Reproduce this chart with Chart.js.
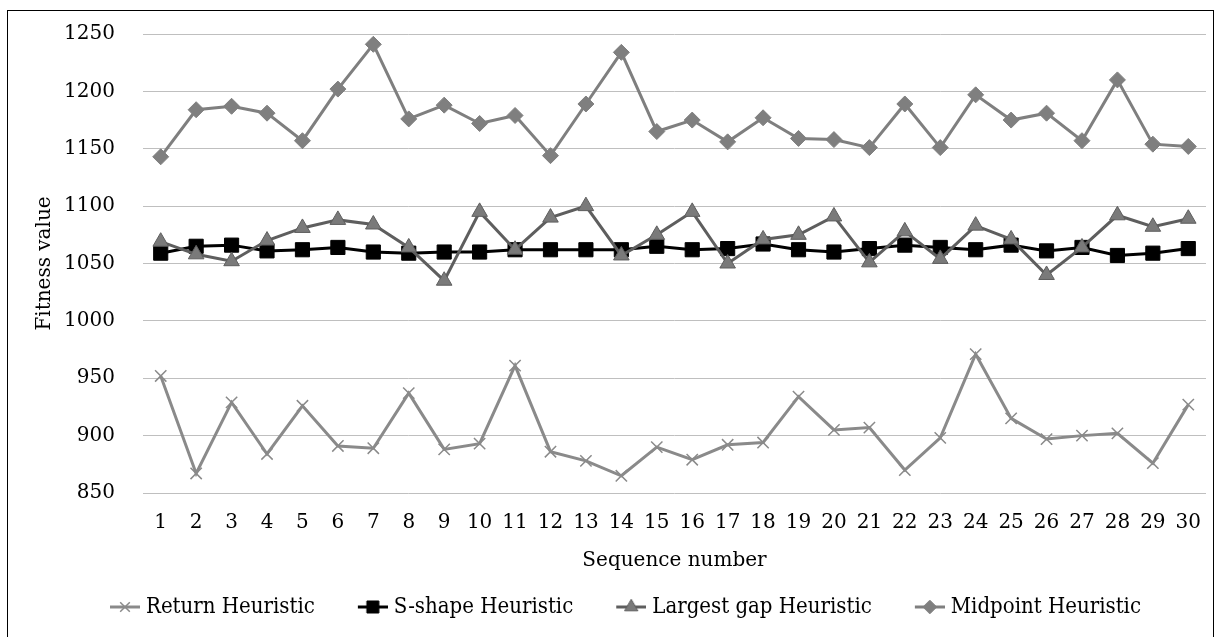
<!DOCTYPE html>
<html>
<head>
<meta charset="utf-8">
<script src="https://cdn.jsdelivr.net/npm/chart.js@4.4.1/dist/chart.umd.min.js"></script>
<style>
  html, body { margin: 0; padding: 0; background: #fff; }
  #wrap { width: 1217px; height: 637px; }
</style>
</head>
<body>
<div id="wrap"><canvas id="fitness" width="1217" height="637"></canvas></div>
<script>
// Sequence numbers on the x axis
const sequence = ['1','2','3','4','5','6','7','8','9','10','11','12','13','14','15',
                  '16','17','18','19','20','21','22','23','24','25','26','27','28','29','30'];

// Fitness value of each heuristic per sequence
const returnHeuristic = [952, 867, 929, 884, 926, 891, 889, 937, 888, 893, 961, 886, 878, 865, 890,
                         879, 892, 894, 934, 905, 907, 870, 898, 971, 915, 897, 900, 902, 876, 927];
const sShapeHeuristic = [1059, 1065, 1066, 1061, 1062, 1064, 1060, 1059, 1060, 1060, 1062, 1062, 1062, 1062, 1065,
                         1062, 1063, 1067, 1062, 1060, 1063, 1066, 1064, 1062, 1066, 1061, 1064, 1057, 1059, 1063];
const largestGapHeuristic = [1069, 1058, 1052, 1070, 1081, 1088, 1084, 1064, 1035, 1095, 1062, 1090, 1100, 1057, 1075,
                             1095, 1050, 1071, 1075, 1091, 1051, 1078, 1054, 1083, 1071, 1040, 1064, 1092, 1082, 1089];
const midpointHeuristic = [1143, 1184, 1187, 1181, 1157, 1202, 1241, 1176, 1188, 1172, 1179, 1144, 1189, 1234, 1165,
                           1175, 1156, 1177, 1159, 1158, 1151, 1189, 1151, 1197, 1175, 1181, 1157, 1210, 1154, 1152];

// y axis range
const yMin = 850, yMax = 1250, yStep = 50;

const serif = "'DejaVu Serif', 'Liberation Serif', serif";
const serifNarrow = "'DejaVu Serif Condensed', 'DejaVu Serif', serif";

const series = [
  { label: 'Return Heuristic', data: returnHeuristic, line: '#8a8a8a', fill: '#8a8a8a', edge: '#8a8a8a', style: 'crossRot', radius: 8, markerWidth: 1.5 },
  { label: 'S-shape Heuristic', data: sShapeHeuristic, line: '#000000', fill: '#000000', edge: '#000000', style: 'rect', radius: 10, markerWidth: 1 },
  { label: 'Largest gap Heuristic', data: largestGapHeuristic, line: '#5e5e5e', fill: '#7a7a7a', edge: '#5e5e5e', style: 'triangle', radius: 9, markerWidth: 1 },
  { label: 'Midpoint Heuristic', data: midpointHeuristic, line: '#7f7f7f', fill: '#7f7f7f', edge: '#7f7f7f', style: 'rectRot', radius: 8, markerWidth: 1 },
];

// legend icon: short line with the marker in the middle, blank lead-in for item spacing
function drawIcon(s) {
  const c = document.createElement('canvas');
  c.width = 55; c.height = 22;
  const ctx = c.getContext('2d');
  ctx.strokeStyle = s.line;
  ctx.lineWidth = 3;
  ctx.beginPath();
  ctx.moveTo(25, 11);
  ctx.lineTo(55, 11);
  ctx.stroke();
  ctx.fillStyle = s.fill;
  ctx.strokeStyle = s.edge;
  ctx.lineWidth = s.markerWidth;
  Chart.helpers.drawPoint(ctx, { pointStyle: s.style, radius: s.radius * 0.85, borderWidth: s.markerWidth }, 40, 11);
  return c;
}

const icons = series.map(drawIcon);

const frame = {
  id: 'frame',
  afterDraw(chart) {
    const ctx = chart.ctx;
    ctx.save();
    ctx.strokeStyle = '#000';
    ctx.lineWidth = 1;
    ctx.strokeRect(7.5, 10.5, 1206, 640);
    ctx.restore();
  }
};

new Chart(document.getElementById('fitness'), {
  type: 'line',
  data: {
    labels: sequence,
    datasets: series.map((s, i) => ({
      label: s.label,
      data: s.data,
      borderColor: s.line,
      borderWidth: 3,
      backgroundColor: s.fill,
      pointStyle: s.style,
      pointRadius: s.radius,
      pointBackgroundColor: s.fill,
      pointBorderColor: s.edge,
      pointBorderWidth: s.markerWidth,
      tension: 0,
      order: series.length - i,
    })),
  },
  options: {
    responsive: false,
    animation: false,
    layout: { padding: { left: 20, right: 6, top: 34, bottom: 9 } },
    plugins: {
      tooltip: { enabled: false },
      legend: {
        position: 'bottom',
        labels: {
          usePointStyle: true,
          pointStyleWidth: 45,
          padding: 23,
          color: '#000',
          font: { family: serifNarrow, size: 22 },
          sort: (a, b) => a.datasetIndex - b.datasetIndex,
          generateLabels(chart) {
            const items = Chart.defaults.plugins.legend.labels.generateLabels(chart);
            items.forEach(it => { it.pointStyle = icons[it.datasetIndex]; });
            return items;
          },
        },
      },
    },
    scales: {
      x: {
        offset: true,
        grid: { display: false, drawTicks: false },
        border: { display: false },
        ticks: { color: '#000', padding: 18, maxRotation: 0, autoSkip: false, font: { family: serif, size: 20 } },
        title: { display: true, text: 'Sequence number', color: '#000', padding: { top: 0, bottom: 0 }, font: { family: serif, size: 20 } },
        afterFit(scale) {
          scale.height = 80;
          scale.paddingLeft = 0;
          scale.paddingRight = 0;
        },
      },
      y: {
        min: yMin,
        max: yMax,
        grid: { color: '#bfbfbf', lineWidth: 1, drawTicks: false },
        border: { display: false },
        ticks: { stepSize: yStep, color: '#000', padding: 28, font: { family: serif, size: 20 }, callback: v => String(v) },
        title: { display: true, text: 'Fitness value', color: '#000', padding: { top: 13, bottom: 0 }, font: { family: serif, size: 20 } },
        afterFit(scale) {
          scale.width = 123;
          scale.paddingTop = 0;
          scale.paddingBottom = 0;
        },
      },
    },
  },
  plugins: [frame],
});
</script>
</body>
</html>
